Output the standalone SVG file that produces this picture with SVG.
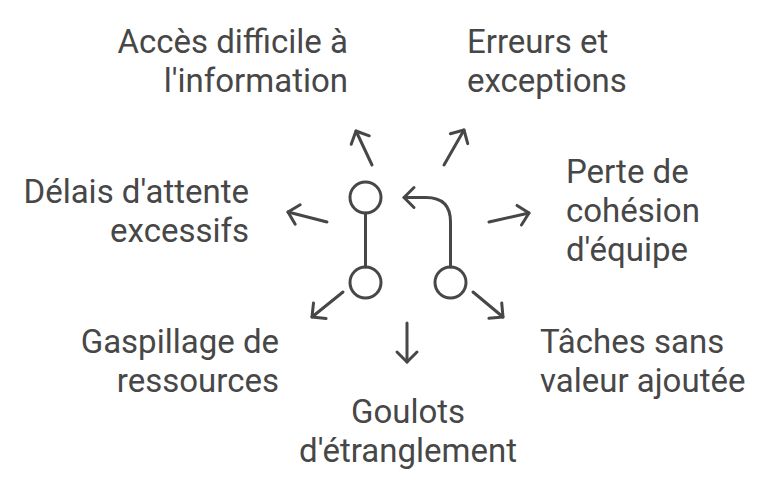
<svg xmlns="http://www.w3.org/2000/svg" width="768" height="494" viewBox="0 0 768 494">
<defs>
<style>
.t{font-family:Roboto,"Liberation Sans",sans-serif;font-size:33px;fill:#474747}
.l{fill:none;stroke:#474747;stroke-width:3;stroke-linecap:round;stroke-linejoin:round}
</style>
<marker id="ah" markerUnits="userSpaceOnUse" markerWidth="30" markerHeight="30" viewBox="-15 -15 30 30" refX="0" refY="0" orient="auto" overflow="visible">
<path d="M -10 -10 L 0 0 L -10 10" fill="none" stroke="#474747" stroke-width="3" stroke-linecap="round" stroke-linejoin="round"/>
</marker>
</defs>
<rect width="768" height="494" fill="#ffffff"/>
<g id="icon">
<circle class="l" cx="365.5" cy="197.5" r="15.5"/>
<circle class="l" cx="365.5" cy="282.5" r="15.5"/>
<circle class="l" cx="450.5" cy="282.5" r="15.5"/>
<line class="l" x1="365.5" y1="213" x2="365.5" y2="267"/>
<path class="l" d="M 450.5 267 L 450.5 222 Q 450.5 197.5 426 197.5 L 404 197.5" marker-end="url(#ah)"/>
</g>
<g id="connectors">
<line class="l" x1="372" y1="165" x2="356" y2="131" marker-end="url(#ah)"/>
<line class="l" x1="444" y1="165" x2="464" y2="130" marker-end="url(#ah)"/>
<line class="l" x1="327" y1="222" x2="288" y2="212" marker-end="url(#ah)"/>
<line class="l" x1="489" y1="222" x2="529" y2="213" marker-end="url(#ah)"/>
<line class="l" x1="343" y1="292" x2="312" y2="317" marker-end="url(#ah)"/>
<line class="l" x1="473" y1="292" x2="503" y2="317" marker-end="url(#ah)"/>
<line class="l" x1="407" y1="323" x2="407" y2="362" marker-end="url(#ah)"/>
</g>
<g id="n-acces"><text class="t" text-anchor="end" x="348" y="53">Accès difficile à</text><text class="t" text-anchor="end" x="348" y="92">l'information</text></g>
<g id="n-erreurs"><text class="t" x="467" y="53">Erreurs et</text><text class="t" x="467" y="92">exceptions</text></g>
<g id="n-delais"><text class="t" text-anchor="end" x="249" y="203">Délais d'attente</text><text class="t" text-anchor="end" x="249" y="242">excessifs</text></g>
<g id="n-perte"><text class="t" x="566" y="183">Perte de</text><text class="t" x="566" y="222">cohésion</text><text class="t" x="566" y="261">d'équipe</text></g>
<g id="n-gaspillage"><text class="t" text-anchor="end" x="279" y="353">Gaspillage de</text><text class="t" text-anchor="end" x="279" y="392">ressources</text></g>
<g id="n-taches"><text class="t" x="540" y="353">Tâches sans</text><text class="t" x="540" y="392">valeur ajoutée</text></g>
<g id="n-goulots"><text class="t" text-anchor="middle" x="408" y="423">Goulots</text><text class="t" text-anchor="middle" x="408" y="462">d'étranglement</text></g>
</svg>
